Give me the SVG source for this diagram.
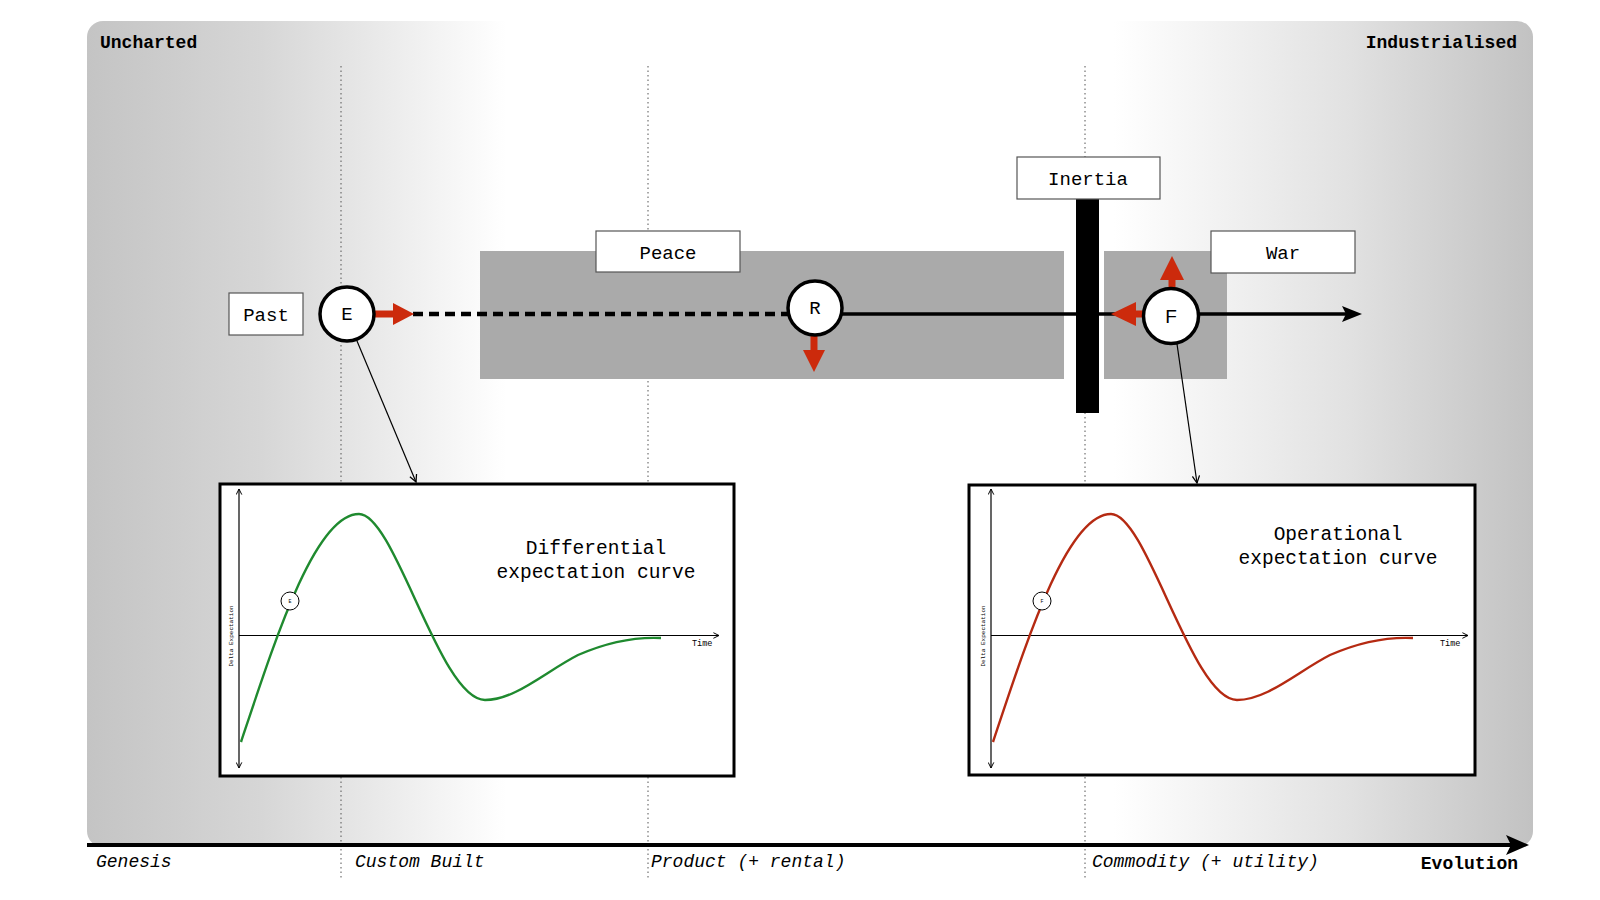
<svg xmlns="http://www.w3.org/2000/svg" width="1600" height="900" viewBox="0 0 1600 900">
<defs>
<linearGradient id="bg" gradientUnits="userSpaceOnUse" x1="87" y1="0" x2="1533" y2="0">
<stop offset="0" stop-color="#c4c4c4"/>
<stop offset="0.12" stop-color="#d6d6d6"/>
<stop offset="0.29" stop-color="#ffffff"/>
<stop offset="0.71" stop-color="#ffffff"/>
<stop offset="0.87" stop-color="#e2e2e2"/>
<stop offset="1" stop-color="#c2c2c2"/>
</linearGradient>
<marker id="vhead" viewBox="0 0 10 10" refX="9" refY="5" markerWidth="9" markerHeight="9" markerUnits="userSpaceOnUse" orient="auto-start-reverse">
<path d="M1,1 L9,5 L1,9" fill="none" stroke="#000" stroke-width="1.4"/>
</marker>
<marker id="vsmall" viewBox="0 0 10 10" refX="9" refY="5" markerWidth="7" markerHeight="7" markerUnits="userSpaceOnUse" orient="auto-start-reverse">
<path d="M1,1 L9,5 L1,9" fill="none" stroke="#000" stroke-width="1.4"/>
</marker>
<style>
.mono{font-family:"Liberation Mono","DejaVu Sans Mono",monospace;fill:#000}
.lbl{font-size:19px;text-anchor:middle}
.stage{font-size:18px;font-style:italic}
.bold{font-size:18px;font-weight:bold}
.dot{stroke:#555;stroke-width:1;stroke-dasharray:1.5 3;fill:none}
.box{fill:#fff;stroke:#555;stroke-width:1.2}
.zone{fill:#aaaaaa}
.circ{fill:#fff;stroke:#000;stroke-width:3.5}
.red{fill:#cc2a0c}
.redline{stroke:#cc2a0c;stroke-width:7}
.chart{fill:#fff;stroke:#000;stroke-width:3}
.ax{stroke:#000;stroke-width:1.2;fill:none}
.tiny{font-size:8.5px}
.micro{font-size:6px}
.ctitle{font-size:19.5px;text-anchor:middle}
</style>
</defs>

<g id="background">
<rect x="87" y="21" width="1446" height="826" rx="16" fill="url(#bg)"/>
<line class="dot" x1="341" y1="66" x2="341" y2="880"/>
<line class="dot" x1="648" y1="66" x2="648" y2="880"/>
<line class="dot" x1="1085" y1="66" x2="1085" y2="880"/>
<text class="mono bold" x="100" y="48">Uncharted</text>
<text class="mono bold" x="1517" y="48" text-anchor="end">Industrialised</text>
</g>

<g id="axis">
<line x1="87" y1="845" x2="1515" y2="845" stroke="#000" stroke-width="4"/>
<path d="M1506,835 L1529,845 L1506,855 L1511,845 Z" fill="#000"/>
<text class="mono stage" x="96" y="867">Genesis</text>
<text class="mono stage" x="355" y="867">Custom Built</text>
<text class="mono stage" x="651" y="867">Product (+ rental)</text>
<text class="mono stage" x="1092" y="867">Commodity (+ utility)</text>
<text class="mono bold" x="1518" y="869" text-anchor="end">Evolution</text>
</g>

<g id="peace-zone"><rect class="zone" x="480" y="251" width="584" height="128"/></g>
<g id="war-zone"><rect class="zone" x="1104" y="251" width="123" height="128"/></g>

<g id="connectors">
<line x1="413" y1="314" x2="789" y2="314" stroke="#000" stroke-width="4.5" stroke-dasharray="10 6"/>
<line x1="842" y1="314" x2="1143" y2="314" stroke="#000" stroke-width="3.5"/>
<line x1="1198" y1="314" x2="1348" y2="314" stroke="#000" stroke-width="3.5"/>
<path d="M1342,306 L1362,314 L1342,322 L1346,314 Z" fill="#000"/>
<line class="ax" x1="357" y1="341" x2="416" y2="482" stroke-width="1.4" marker-end="url(#vhead)"/>
<line class="ax" x1="1177" y1="344" x2="1197" y2="483" stroke-width="1.4" marker-end="url(#vhead)"/>
</g>

<g id="inertia-bar"><rect x="1076" y="199" width="23" height="214" fill="#000"/></g>

<g id="red-arrows">
<line class="redline" x1="374" y1="314" x2="397" y2="314"/>
<path class="red" d="M393,303 L414,314 L393,325 Z"/>
<line class="redline" x1="814" y1="334" x2="814" y2="354"/>
<path class="red" d="M803,350 L814,372 L825,350 Z"/>
<line class="redline" x1="1172" y1="290" x2="1172" y2="276"/>
<path class="red" d="M1160,280 L1172,256 L1184,280 Z"/>
<line class="redline" x1="1144" y1="314" x2="1130" y2="314"/>
<path class="red" d="M1136,302 L1111,314 L1136,326 Z"/>
</g>

<g id="past"><rect class="box" x="229" y="293" width="74" height="42"/><text class="mono lbl" x="266" y="321">Past</text></g>
<g id="peace"><rect class="box" x="596" y="231" width="144" height="41"/><text class="mono lbl" x="668" y="259">Peace</text></g>
<g id="inertia"><rect class="box" x="1017" y="157" width="143" height="42"/><text class="mono lbl" x="1088" y="185">Inertia</text></g>
<g id="war"><rect class="box" x="1211" y="231" width="144" height="42"/><text class="mono lbl" x="1283" y="259">War</text></g>

<g id="node-E"><circle class="circ" cx="347" cy="314" r="27"/><text class="mono lbl" x="347" y="320" font-size="18">E</text></g>
<g id="node-R"><circle class="circ" cx="815" cy="308" r="27"/><text class="mono lbl" x="815" y="314" font-size="18">R</text></g>
<g id="node-F"><circle class="circ" cx="1171" cy="316" r="27.5"/><text x="1171" y="323" font-family="Liberation Sans, Arial, sans-serif" font-size="19" text-anchor="middle">F</text></g>

<g id="differential-chart">
<rect class="chart" x="220" y="484" width="514" height="292"/>
<line class="ax" x1="239" y1="489" x2="239" y2="768" marker-start="url(#vsmall)" marker-end="url(#vsmall)"/>
<line class="ax" x1="239" y1="635.5" x2="719" y2="635.5" marker-end="url(#vsmall)"/>
<path d="M241,742 C275,640 315,514 359,514 C395,514 440,700 485,700 C515,700 545,672 578,655 C610,641 640,637 661,638" fill="none" stroke="#1f8a2f" stroke-width="2.4"/>
<circle cx="290" cy="601" r="9" fill="#fff" stroke="#000" stroke-width="1"/>
<text class="mono" x="290" y="603" font-size="5" text-anchor="middle">E</text>
<text class="mono tiny" x="692" y="646">Time</text>
<text class="mono micro" transform="translate(233,636) rotate(-90)" text-anchor="middle">Delta Expectation</text>
<text class="mono ctitle" x="596" y="554">Differential</text>
<text class="mono ctitle" x="596" y="578">expectation curve</text>
</g>

<g id="operational-chart">
<rect class="chart" x="969" y="485" width="506" height="290"/>
<line class="ax" x1="991" y1="489" x2="991" y2="768" marker-start="url(#vsmall)" marker-end="url(#vsmall)"/>
<line class="ax" x1="991" y1="635.5" x2="1468" y2="635.5" marker-end="url(#vsmall)"/>
<path d="M993,742 C1027,640 1067,514 1111,514 C1147,514 1192,700 1237,700 C1267,700 1297,672 1330,655 C1362,641 1392,637 1413,638" fill="none" stroke="#b52a12" stroke-width="2.4"/>
<circle cx="1042" cy="601" r="9" fill="#fff" stroke="#000" stroke-width="1"/>
<text class="mono" x="1042" y="603" font-size="5" text-anchor="middle">F</text>
<text class="mono tiny" x="1440" y="646">Time</text>
<text class="mono micro" transform="translate(985,636) rotate(-90)" text-anchor="middle">Delta Expectation</text>
<text class="mono ctitle" x="1338" y="540">Operational</text>
<text class="mono ctitle" x="1338" y="564">expectation curve</text>
</g>
</svg>
